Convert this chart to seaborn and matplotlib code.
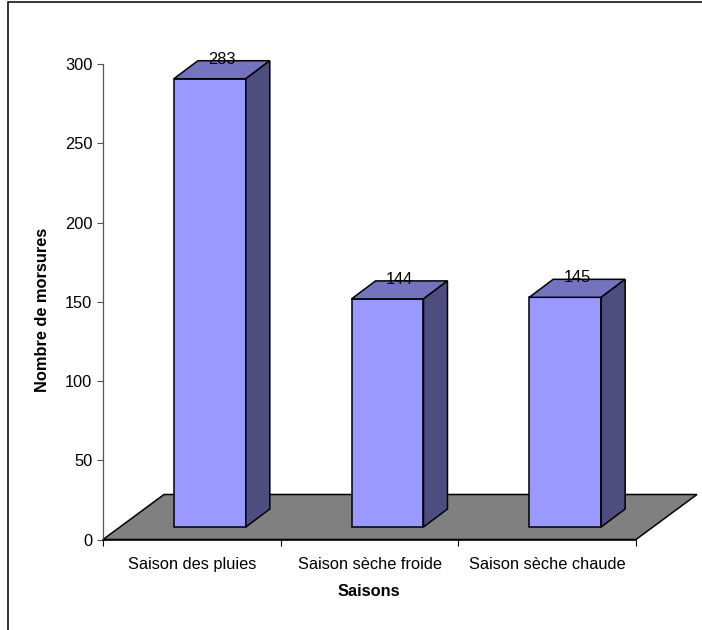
import matplotlib
matplotlib.use("Agg")
import matplotlib.pyplot as plt
from matplotlib.patches import Polygon, Rectangle
from matplotlib.transforms import Affine2D, IdentityTransform
import seaborn as sns

seasons = ["Saison des pluies", "Saison sèche froide", "Saison sèche chaude"]
bites = [283, 144, 145]
y_ticks = [0, 50, 100, 150, 200, 250, 300]

FRONT = "#9999FF"
TOP = "#7373BF"
SIDE = "#4D4D80"
FLOOR = "#808080"
FS = 11.8

sns.set_theme(style="white")
plt.rcParams["font.family"] = ["Liberation Sans", "DejaVu Sans"]
plt.rcParams["font.size"] = FS
plt.rcParams["text.color"] = "black"
plt.rcParams["xtick.labelcolor"] = "black"
plt.rcParams["ytick.labelcolor"] = "black"

W, H = 702, 630
fig = plt.figure(figsize=(W / 100, H / 100), dpi=100)
fig.patch.set_facecolor("white")

# plot area in pixels (origin at top-left of image)
left_px, right_px, top_px, bottom_px = 103, 636, 64.3, 539.5
ax = fig.add_axes([left_px / W, 1 - bottom_px / H,
                   (right_px - left_px) / W, (bottom_px - top_px) / H])
ax.set_facecolor("none")

sns.barplot(x=seasons, y=bites, ax=ax, color=FRONT, width=0.405,
            edgecolor="black", linewidth=1.1, saturation=1, zorder=3)

ax.set_xlim(-0.5, 2.5)
ax.set_ylim(0, 300)
ax.set_yticks(y_ticks)
ax.set_xticks([-0.5, 0.5, 1.5, 2.5])
ax.set_xticklabels([])
ax.set_xticks([0, 1, 2], minor=True)
ax.set_xticklabels(seasons, minor=True, fontsize=FS)
ax.tick_params(axis="x", which="major", length=4.3, width=0.8,
               color="black", direction="out", bottom=True)
ax.tick_params(axis="x", which="minor", length=0, pad=12.8,
               labelcolor="black")
ax.tick_params(axis="y", length=4.3, width=0.8, color="#555555",
               direction="out", left=True, pad=3.4, labelsize=FS,
               labelcolor="black")
for side in ("top", "right"):
    ax.spines[side].set_visible(False)
ax.spines["left"].set_color("#555555")
ax.spines["left"].set_linewidth(0.9)
ax.spines["bottom"].set_color("black")
ax.spines["bottom"].set_linewidth(1.1)
ax.spines["bottom"].set_zorder(2.5)
ax.set_xlabel("")
ax.set_ylabel("")

# pixel offsets for the pseudo-3D look (display coords, y up)
floor_dx, floor_dy = 61, 45
bar_fx, bar_fy = 18, 12.5
bar_dx, bar_dy = 24, 18

td = ax.transData
ident = IdentityTransform()

# floor plane
x0, y0 = td.transform((-0.5, 0))
x1, _ = td.transform((2.5, 0))
floor = Polygon([(x0, y0), (x1, y0), (x1 + floor_dx, y0 + floor_dy),
                 (x0 + floor_dx, y0 + floor_dy)], closed=True,
                facecolor=FLOOR, edgecolor="black", linewidth=1.1,
                transform=ident, zorder=1, clip_on=False)
ax.add_artist(floor)

shift = Affine2D().translate(bar_fx, bar_fy)
for patch, val in zip(ax.patches, bites):
    patch.set_transform(td + shift)
    patch.set_clip_on(False)
    bx = patch.get_x()
    bw = patch.get_width()
    lx, by = td.transform((bx, 0))
    rx, ty = td.transform((bx + bw, val))
    lx += bar_fx; rx += bar_fx
    by += bar_fy; ty += bar_fy
    top = Polygon([(lx, ty), (rx, ty), (rx + bar_dx, ty + bar_dy),
                   (lx + bar_dx, ty + bar_dy)], closed=True,
                  facecolor=TOP, edgecolor="black", linewidth=1.1,
                  transform=ident, zorder=3, clip_on=False)
    sidep = Polygon([(rx, by), (rx + bar_dx, by + bar_dy),
                     (rx + bar_dx, ty + bar_dy), (rx, ty)], closed=True,
                    facecolor=SIDE, edgecolor="black", linewidth=1.1,
                    transform=ident, zorder=3, clip_on=False)
    ax.add_artist(top)
    ax.add_artist(sidep)
    ax.annotate(str(val), xy=(bx + bw / 2, val), xycoords="data",
                xytext=(bar_fx + bar_dx / 2, bar_fy + bar_dy + 1.5),
                textcoords="offset pixels", ha="center", va="center",
                fontsize=FS, color="black", zorder=5, annotation_clip=False)

fig.text(43 / W, 1 - 310 / H, "Nombre de morsures", rotation=90,
         ha="center", va="center", fontsize=FS, fontweight="bold",
         color="black")
fig.text(369 / W, 1 - 591 / H, "Saisons", ha="center", va="center",
         fontsize=FS, fontweight="bold", color="black")

# chart area frame
frame = Rectangle((8, -20), W + 20, H - 2 + 20, transform=ident,
                  fill=False, edgecolor="black", linewidth=1.1)
fig.add_artist(frame)

fig.savefig("out.png", dpi=100, facecolor="white")
